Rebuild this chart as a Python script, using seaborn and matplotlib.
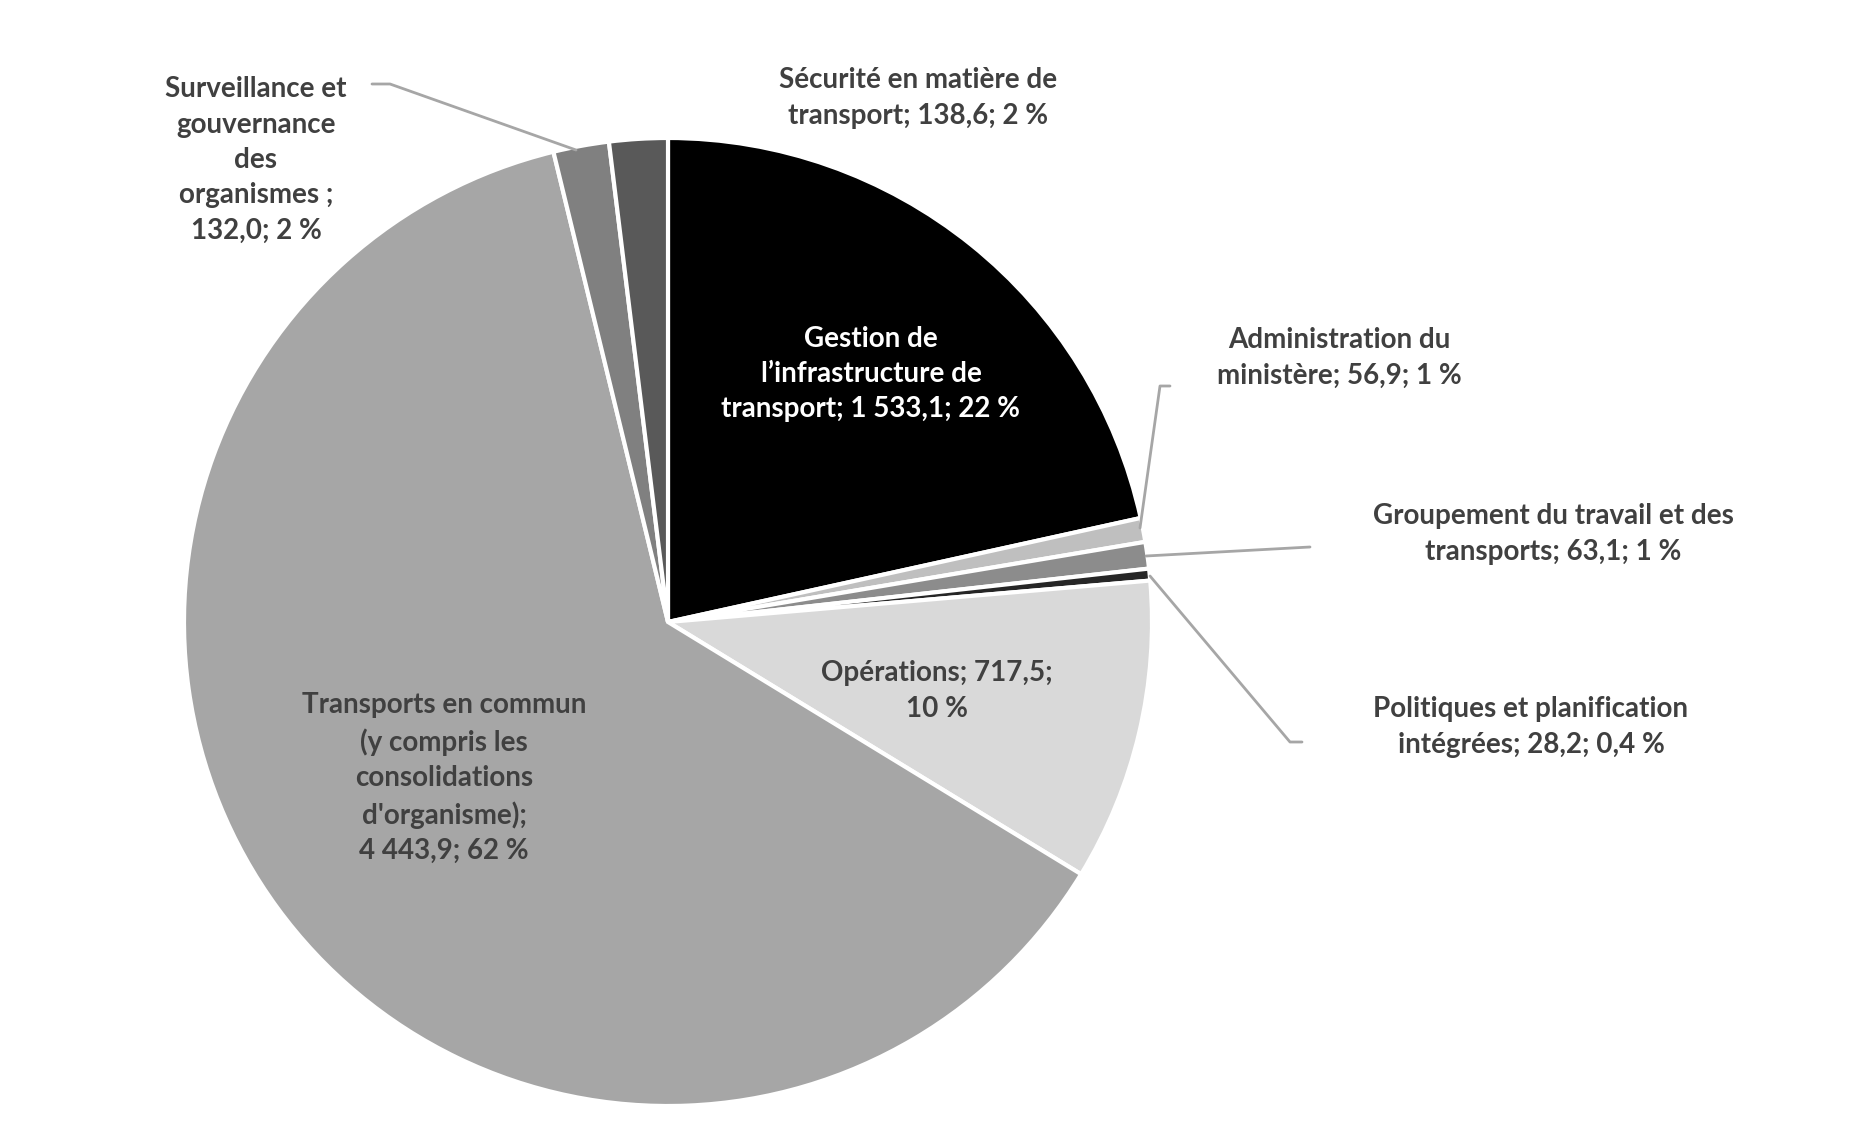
import matplotlib
matplotlib.use("Agg")
import matplotlib.pyplot as plt
import seaborn as sns

sns.set_theme(style="white")

# order: clockwise from 12 o'clock
categories = ["Gestion de\nl\u2019infrastructure de\ntransport; 1 533,1; 22 %",
              "Administration du\nminist\u00e8re; 56,9; 1 %",
              "Groupement du travail et des\ntransports; 63,1; 1 %",
              "Politiques et planification\nint\u00e9gr\u00e9es; 28,2; 0,4 %",
              "Op\u00e9rations; 717,5;\n10 %",
              "Transports en commun\n(y compris les\nconsolidations\nd'organisme);\n4 443,9; 62 %",
              "Surveillance et\ngouvernance\ndes\norganismes ;\n132,0; 2 %",
              "S\u00e9curit\u00e9 en mati\u00e8re de\ntransport; 138,6; 2 %"]
values = [1533.1, 56.9, 63.1, 28.2, 717.5, 4443.9, 132.0, 138.6]
colors = ["#000000", "#bfbfbf", "#8c8c8c", "#262626", "#d9d9d9", "#a6a6a6", "#808080", "#595959"]

# label anchor positions in pixels (from top-left)
label_pos = [(871, 374), (1339, 358), (1553, 534), (1531, 727),
             (937, 691), (444, 778), (256, 160), (918, 98)]
label_col = ["white", "#404040", "#404040", "#404040", "#404040", "#404040", "#404040", "#404040"]

# leader lines (pixel coords)
leaders = [
    [(372, 84), (390, 84), (576, 150)],
    [(1170, 386), (1160, 386), (1140, 528)],
    [(1310, 547), (1146, 556)],
    [(1302, 742), (1290, 742), (1150, 576)],
]

W, H = 1871, 1140
fig = plt.figure(figsize=(W / 100, H / 100), dpi=100)
ax = fig.add_axes([0, 0, 1, 1])
ax.set_xlim(0, W)
ax.set_ylim(0, H)
ax.set_aspect("equal")
ax.axis("off")

ax.pie(values, colors=colors, startangle=90, counterclock=False,
       center=(668, H - 622), radius=484,
       wedgeprops=dict(edgecolor="white", linewidth=3))
ax.set_xlim(0, W)
ax.set_ylim(0, H)

for pts in leaders:
    ax.plot([p[0] for p in pts], [H - p[1] for p in pts], color="#a6a6a6", lw=2)

for txt, (x, y), c in zip(categories, label_pos, label_col):
    ax.text(x, H - y, txt, ha="center", va="center", color=c,
            fontsize=20, fontweight="bold", family="Lato", linespacing=1.45)

fig.savefig("out.png", dpi=100)
